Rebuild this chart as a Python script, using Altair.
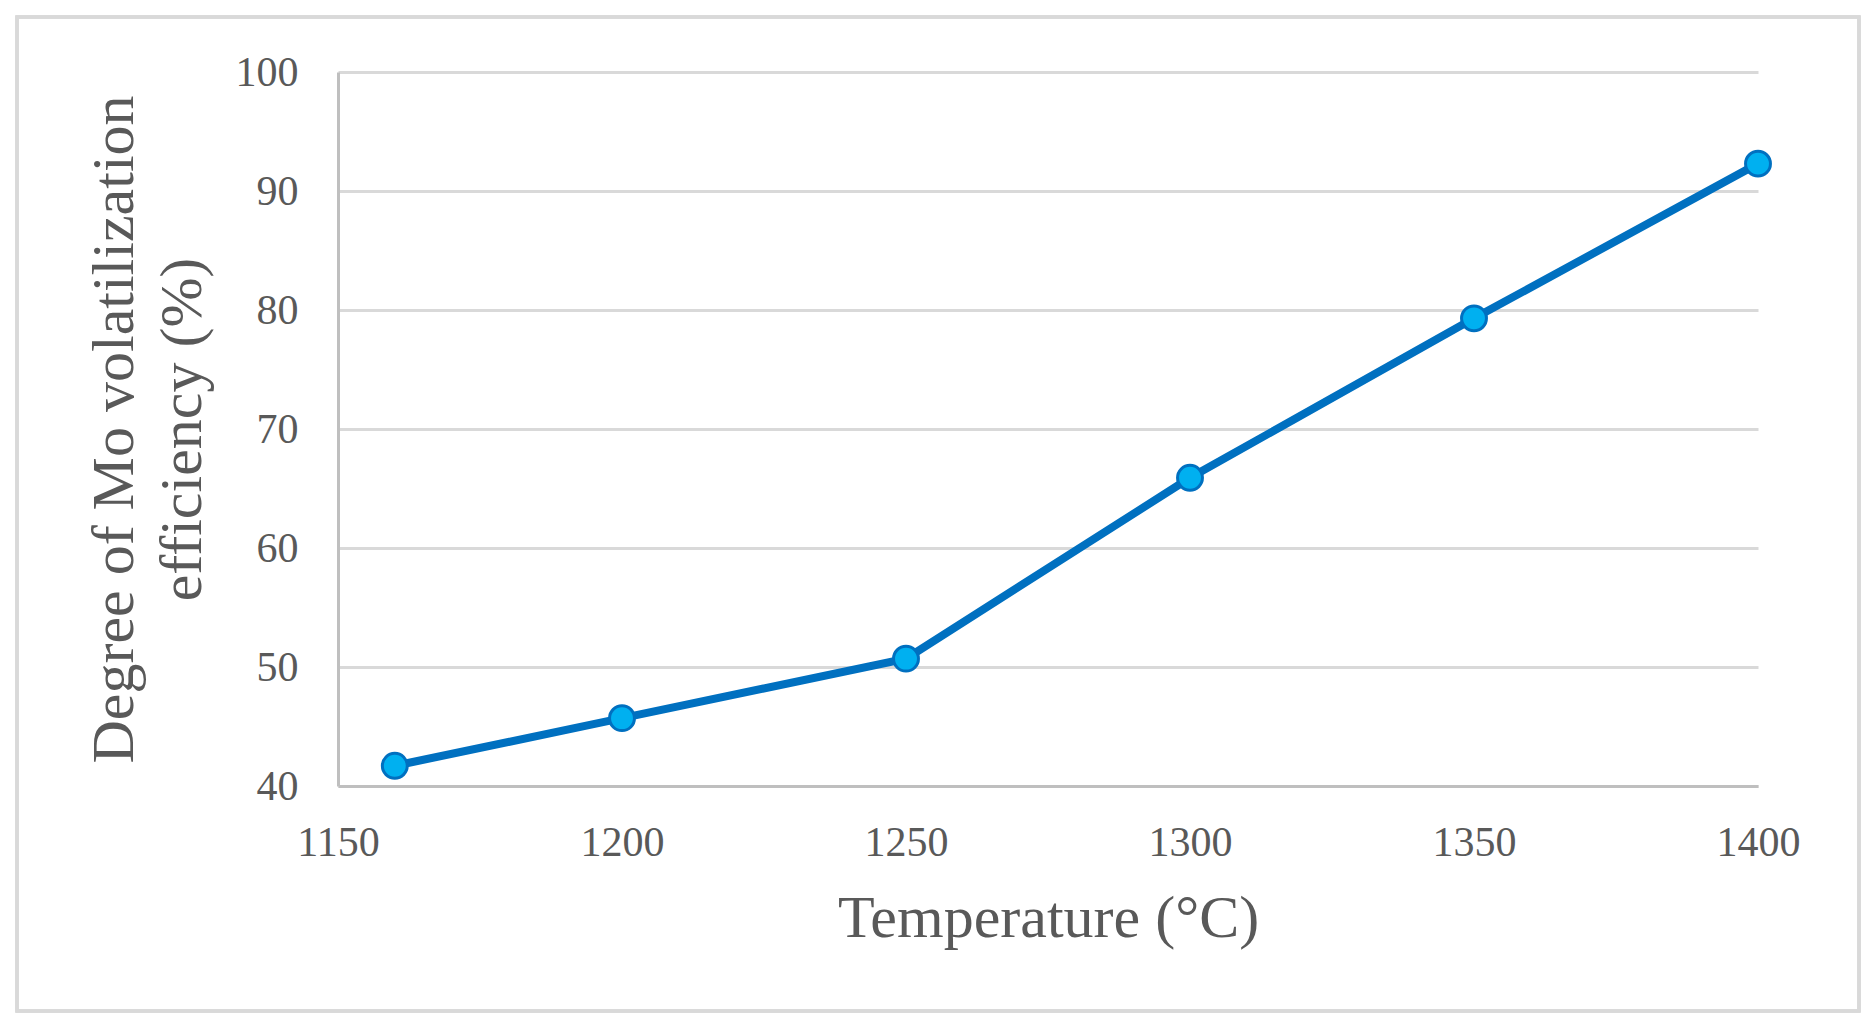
"""Mo volatilization efficiency versus temperature"""

import altair as alt
import pandas as pd

FONT = "Liberation Serif"
TEXT_COLOR = "#595959"
LINE_COLOR = "#0070C0"
POINT_FILL = "#00B0F0"

temperature = [1160, 1200, 1250, 1300, 1350, 1400]
efficiency = [41.7, 45.7, 50.7, 65.9, 79.3, 92.3]
x_ticks = [1150, 1200, 1250, 1300, 1350, 1400]
y_ticks = [40, 50, 60, 70, 80, 90, 100]

data = pd.DataFrame({"temperature": temperature, "efficiency": efficiency})

x_enc = alt.X(
    "temperature:Q",
    scale=alt.Scale(domain=[1150, 1400], nice=False, zero=False),
    axis=alt.Axis(
        values=x_ticks,
        format="d",
        labelFlush=False,
        title="Temperature (°C)",
        grid=False,
        ticks=False,
        domainColor="#bfbfbf",
        domainWidth=3,
        labelFont=FONT,
        labelFontSize=42,
        labelColor=TEXT_COLOR,
        labelPadding=36,
        titleFont=FONT,
        titleFontSize=60,
        titleFontWeight="normal",
        titleColor=TEXT_COLOR,
        titlePadding=26,
    ),
)
y_enc = alt.Y(
    "efficiency:Q",
    scale=alt.Scale(domain=[40, 100], nice=False, zero=False),
    axis=alt.Axis(
        values=y_ticks,
        title=["Degree of Mo volatilization", "efficiency (%)"],
        grid=True,
        gridColor="#d9d9d9",
        gridWidth=3,
        ticks=False,
        domainColor="#bfbfbf",
        domainWidth=3,
        labelFont=FONT,
        labelFontSize=42,
        labelColor=TEXT_COLOR,
        labelPadding=40,
        titleFont=FONT,
        titleFontSize=60,
        titleFontWeight="normal",
        titleColor=TEXT_COLOR,
        titlePadding=22,
        titleLineHeight=68,
    ),
)

# outer frame of the chart area
frame = alt.Chart(data).mark_rect(
    fill=None, stroke="#d9d9d9", strokeWidth=3
).encode(
    x=alt.value(-321), x2=alt.value(1521), y=alt.value(-55), y2=alt.value(939)
)

line = alt.Chart(data).mark_line(color=LINE_COLOR, strokeWidth=8).encode(
    x=x_enc, y=y_enc
)

points = alt.Chart(data).mark_point(
    filled=True, fill=POINT_FILL, stroke=LINE_COLOR, strokeWidth=3, size=620, opacity=1
).encode(x="temperature:Q", y="efficiency:Q")

chart = (
    alt.layer(frame, line, points)
    .properties(
        width=1420,
        height=714,
        autosize=alt.AutoSizeParams(type="none"),
        padding={"left": 330, "top": 64, "right": 110, "bottom": 230},
    )
    .configure_view(stroke=None)
)

chart.save("out.html", embed_options={"renderer": "svg", "actions": False})
